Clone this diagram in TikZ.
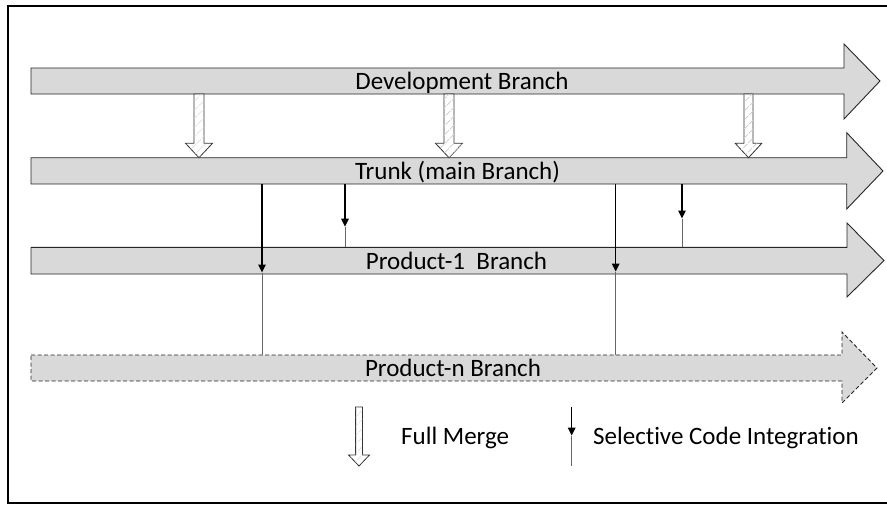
\documentclass[tikz,border=0pt]{standalone}
\usepackage{fontspec}
\setmainfont{Carlito}[Ligatures={NoCommon,NoRare,NoContextual}]
\usetikzlibrary{arrows.meta,patterns.meta}
\definecolor{branchgray}{HTML}{D9D9D9}
\newcommand\mergearr[6]{% x, top, headbase, tip, shaft half width, head half width
  \draw[merge] (#1-#5,#2) -- (#1-#5,#3) -- (#1-#6,#3) -- (#1,#4) -- (#1+#6,#3) -- (#1+#5,#3) -- (#1+#5,#2) -- cycle;}
\begin{document}
\begin{tikzpicture}[x=1pt,y=-1pt,
  branch/.style={draw=black!85,line width=0.9pt,fill=branchgray},
  lbl/.style={font=\fontsize{25}{30}\selectfont,inner sep=0pt,anchor=base},
  lgd/.style={font=\fontsize{25}{30}\selectfont,inner sep=0pt,anchor=base west},
  merge/.style={draw=black!80,line width=0.8pt,fill=white,
    postaction={pattern={Lines[angle=45,distance=6.5pt,line width=0.8pt]},pattern color=black!18}},
  sel/.style={line width=1.5pt,-{Triangle[width=7.5pt,length=8pt]}},
  selrest/.style={line width=0.8pt,draw=black!60},
]
\useasboundingbox (0,0) rectangle (887,504);
% frame
\draw[line width=2pt] (887,5.5) -- (7.5,5.5) -- (7.5,502.5) -- (887,502.5);

% branches
\draw[branch] (31,68) -- (844,68) -- (844,44) -- (880,81) -- (844,119) -- (844,94) -- (31,94) -- cycle;
\draw[branch] (31,157.7) -- (846.7,157.7) -- (846.7,132.7) -- (883,171) -- (846.7,209) -- (846.7,184) -- (31,184) -- cycle;
\draw[branch] (31,247.3) -- (847,247.3) -- (847,223) -- (884,260.5) -- (847,297) -- (847,274) -- (31,274) -- cycle;
\draw[branch,dash pattern=on 4pt off 2.5pt] (31,355) -- (842,355) -- (842,332) -- (877,368) -- (842,403) -- (842,381) -- (31,381) -- cycle;

\node[lbl] (dev) at (462,89.5) {Development Branch};
\node[lbl] (trunk) at (457.5,179.3) {Trunk (main Branch)};
\node[lbl] (p1) at (456.5,269) {Product-1\ \ Branch};
\node[lbl] (pn) at (453,376.7) {Product-n Branch};

% full merges
\mergearr{199}{94}{143.3}{157.7}{5}{13.5}
\mergearr{449}{94}{143.3}{157.7}{5}{13.5}
\mergearr{748.5}{94}{143.3}{157.7}{4.5}{13.3}

% selective integrations
\coordinate (s1a) at (262,184); \coordinate (s1b) at (262,272.5); \coordinate (s1c) at (262,355);
\coordinate (s2a) at (345,184); \coordinate (s2b) at (345,226.7); \coordinate (s2c) at (345,247.3);
\coordinate (s3a) at (615.7,184); \coordinate (s3b) at (615.7,271.5); \coordinate (s3c) at (615.7,355);
\coordinate (s4a) at (682,184); \coordinate (s4b) at (682,218.5); \coordinate (s4c) at (682,247.3);
\foreach \s in {s1,s2,s3,s4}{
  \draw[selrest] (\s b) -- (\s c);
  \draw[sel] (\s a) -- (\s b);
}

% legend
\mergearr{359}{407}{455}{466}{3.4}{10.5}
\node[lgd] (lfm) at (401,444.5) {Full Merge};
\coordinate (lsa) at (571.7,406.7); \coordinate (lsb) at (571.7,435.5); \coordinate (lsc) at (571.7,465.7);
\draw[selrest] (lsb) -- (lsc);
\draw[sel] (lsa) -- (lsb);
\node[lgd] (lsci) at (593,444.5) {Selective Code Integration};
\end{tikzpicture}
\end{document}
